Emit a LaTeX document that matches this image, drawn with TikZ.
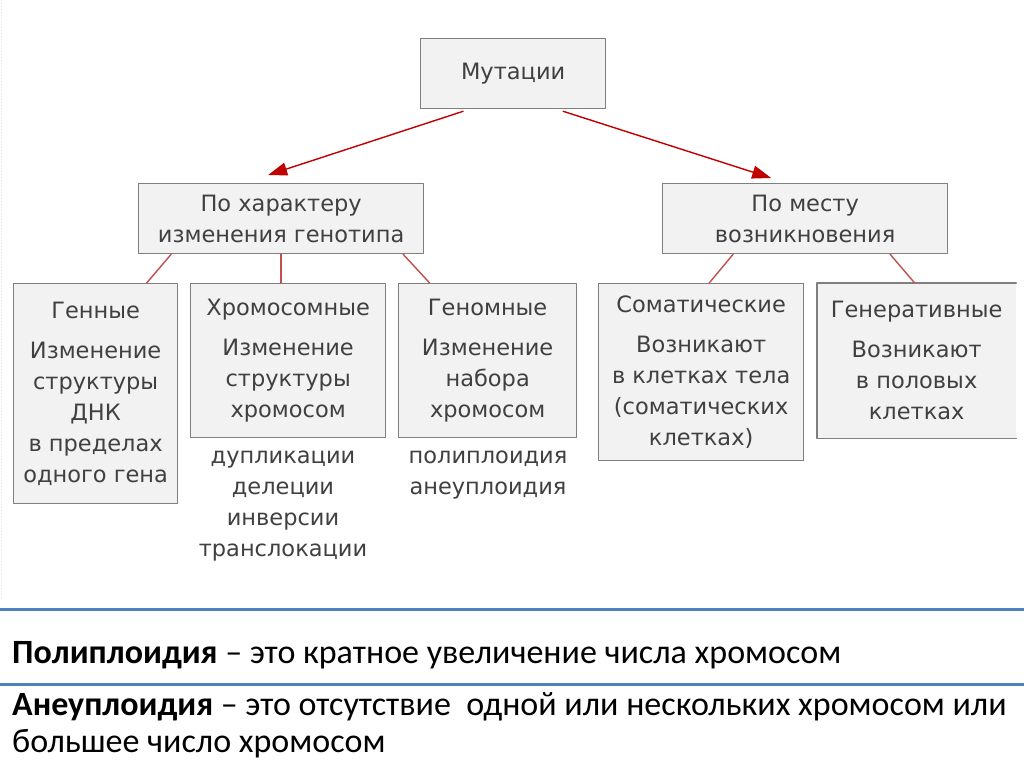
\documentclass[tikz,border=0pt]{standalone}
\usepackage{fontspec}
\setmainfont{DejaVu Sans}
\newfontfamily\calib{Carlito}
\usetikzlibrary{arrows.meta,positioning,calc}
\definecolor{boxfill}{HTML}{F2F2F2}
\definecolor{boxline}{HTML}{7F7F7F}
\definecolor{txt}{HTML}{404040}
\definecolor{redline}{HTML}{C0504D}
\definecolor{redtip}{HTML}{C00000}
\definecolor{blueline}{HTML}{4F81BD}
\tikzset{
  mbox/.style={draw=boxline, fill=boxfill, line width=1.3pt, inner sep=0pt, align=center, text=txt, anchor=north west},
  link/.style={draw=redline, line width=1.4pt},
  list/.style={inner sep=0pt, align=center, text=txt, anchor=north},
  defn/.style={inner sep=0pt, anchor=base west, font=\calib\fontsize{34}{40}\selectfont}
}
\begin{document}
\begin{tikzpicture}[x=1pt,y=-1pt,>={Triangle[length=19pt,width=13pt]}, font=\fontsize{22.5}{31}\selectfont, line join=round, line cap=round]
\useasboundingbox (0,0) rectangle (1024,767);
\fill[white] (0,0) rectangle (1024,767);
\draw[dotted, line width=1pt, color=yellow!25!gray!25] (1.5,0)--(1.5,600);
% top levels
\node[mbox, minimum width=185pt, minimum height=70pt] (mut) at (420,38) {Мутации};
\node[mbox, minimum width=285pt, minimum height=70pt] (char) at (138,183) {По характеру\\изменения генотипа};
\node[mbox, minimum width=285pt, minimum height=70pt] (place) at (662,183) {По месту\\возникновения};
% third level
\node[mbox, minimum width=164pt, minimum height=220pt] (gen) at (13,283) {Генные\\[9pt]Изменение\\структуры\\ДНК\\в пределах\\одного гена};
\node[mbox, minimum width=195pt, minimum height=154pt] (chrom) at (190,283) {Хромосомные\\[9pt]Изменение\\структуры\\хромосом};
\node[mbox, minimum width=178pt, minimum height=154pt] (genom) at (398,283) {Геномные\\[9pt]Изменение\\набора\\хромосом};
\node[mbox, minimum width=205pt, minimum height=177pt] (somat) at (598,283) {Соматические\\[9pt]Возникают\\в клетках тела\\(соматических\\клетках)};
\node[mbox, draw=none, minimum width=198pt, minimum height=154pt] (gnrt) at (817,283) {Генеративные\\[9pt]Возникают\\в половых\\клетках};
\draw[draw=boxline, line width=1.3pt] (gnrt.north east)--(gnrt.north west)--(gnrt.south west)--(gnrt.south east);
% lists
\node[list] (chromlist) at (283,451) {дупликации\\делеции\\инверсии\\транслокации};
\node[list] (genomlist) at (488,451) {полиплоидия\\анеуплоидия};
% connectors
\draw[link, ->, redtip] ([xshift=-50pt,yshift=-2pt]mut.south)--([xshift=-13pt,yshift=8pt]char.north);
\draw[link, ->, redtip] ([xshift=50pt,yshift=-2pt]mut.south)--([xshift=-34pt,yshift=5pt]place.north);
\draw[link] ([xshift=-110pt]char.south)--([xshift=51pt]gen.north);
\draw[link] (char.south)--(char.south |- chrom.north);
\draw[link] ([xshift=122pt]char.south)--([xshift=-58pt]genom.north);
\draw[link] ([xshift=-72pt]place.south)--([xshift=8pt]somat.north);
\draw[link] ([xshift=85pt]place.south)--([xshift=-2pt]gnrt.north);
% definitions
\draw[blueline, line width=3pt] (0,609)--(1024,609);
\draw[blueline, line width=3pt] (0,684)--(1024,684);
\node[defn] (poly) at (12,663) {\textbf{Полиплоидия} – это кратное увеличение числа хромосом};
\node[defn] (aneu) at (12,715) {\textbf{Анеуплоидия} – это отсутствие\ \ одной или нескольких хромосом или};
\node[defn] (aneu2) at (12,752) {большее число хромосом};
\end{tikzpicture}
\end{document}
